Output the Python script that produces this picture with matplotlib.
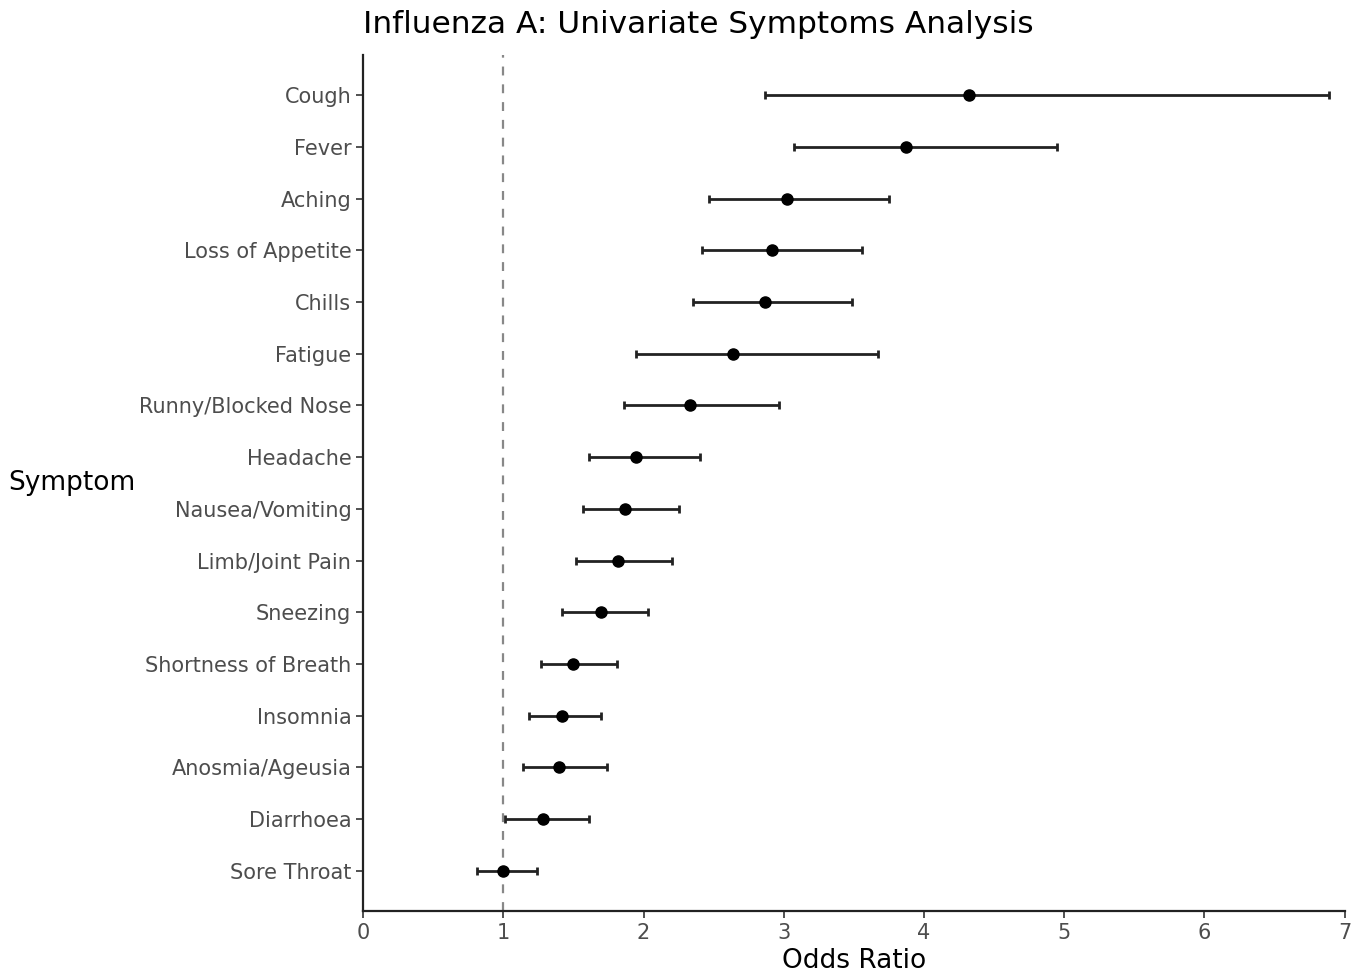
import matplotlib
matplotlib.use("Agg")
import matplotlib.pyplot as plt

# Symptoms, top to bottom as in the chart
symptoms = ["Cough", "Fever", "Aching", "Loss of Appetite", "Chills", "Fatigue",
            "Runny/Blocked Nose", "Headache", "Nausea/Vomiting", "Limb/Joint Pain",
            "Sneezing", "Shortness of Breath", "Insomnia", "Anosmia/Ageusia",
            "Diarrhoea", "Sore Throat"]
odds_ratio = [4.32, 3.87, 3.02, 2.92, 2.87, 2.64, 2.33, 1.95, 1.87, 1.82,
              1.70, 1.50, 1.42, 1.40, 1.28, 1.00]
ci_low = [2.87, 3.07, 2.47, 2.42, 2.35, 1.95, 1.86, 1.61, 1.57, 1.52,
          1.42, 1.27, 1.18, 1.14, 1.01, 0.81]
ci_high = [6.89, 4.95, 3.75, 3.56, 3.49, 3.67, 2.97, 2.40, 2.25, 2.20,
           2.03, 1.81, 1.70, 1.74, 1.61, 1.24]

n = len(symptoms)
ypos = [n - 1 - i for i in range(n)]
err_lo = [o - l for o, l in zip(odds_ratio, ci_low)]
err_hi = [h - o for o, h in zip(odds_ratio, ci_high)]

fig = plt.figure(figsize=(13.65, 9.75), dpi=100)
ax = fig.add_axes([0.266, 0.0656, 0.719, 0.878])

ax.axvline(1, color="#888888", linestyle=(0, (4, 4)), linewidth=1.6, zorder=1)
ax.errorbar(odds_ratio, ypos, xerr=[err_lo, err_hi], fmt="o", color="black",
            ecolor="#222222", elinewidth=2, capsize=3, capthick=2,
            markersize=8, zorder=3)

ax.set_xlim(0, 7)
ax.set_ylim(-0.78, n - 1 + 0.78)
ax.set_xticks(range(0, 8))
ax.set_yticks(ypos)
ax.set_yticklabels(symptoms)
ax.tick_params(axis="both", labelsize=15, labelcolor="#4d4d4d", length=5,
               width=1.2, color="#333333")
for s in ["top", "right"]:
    ax.spines[s].set_visible(False)
for s in ["left", "bottom"]:
    ax.spines[s].set_linewidth(1.6)
    ax.spines[s].set_color("#222222")

ax.set_xlabel("Odds Ratio", fontsize=19, labelpad=4)
ax.set_ylabel("Symptom", fontsize=19, rotation=0, va="center", ha="left")
ax.yaxis.set_label_coords(-0.3615, 0.5)
ax.set_title("Influenza A: Univariate Symptoms Analysis", fontsize=22.5,
             loc="left", pad=16)

fig.savefig("out.png", dpi=100)
